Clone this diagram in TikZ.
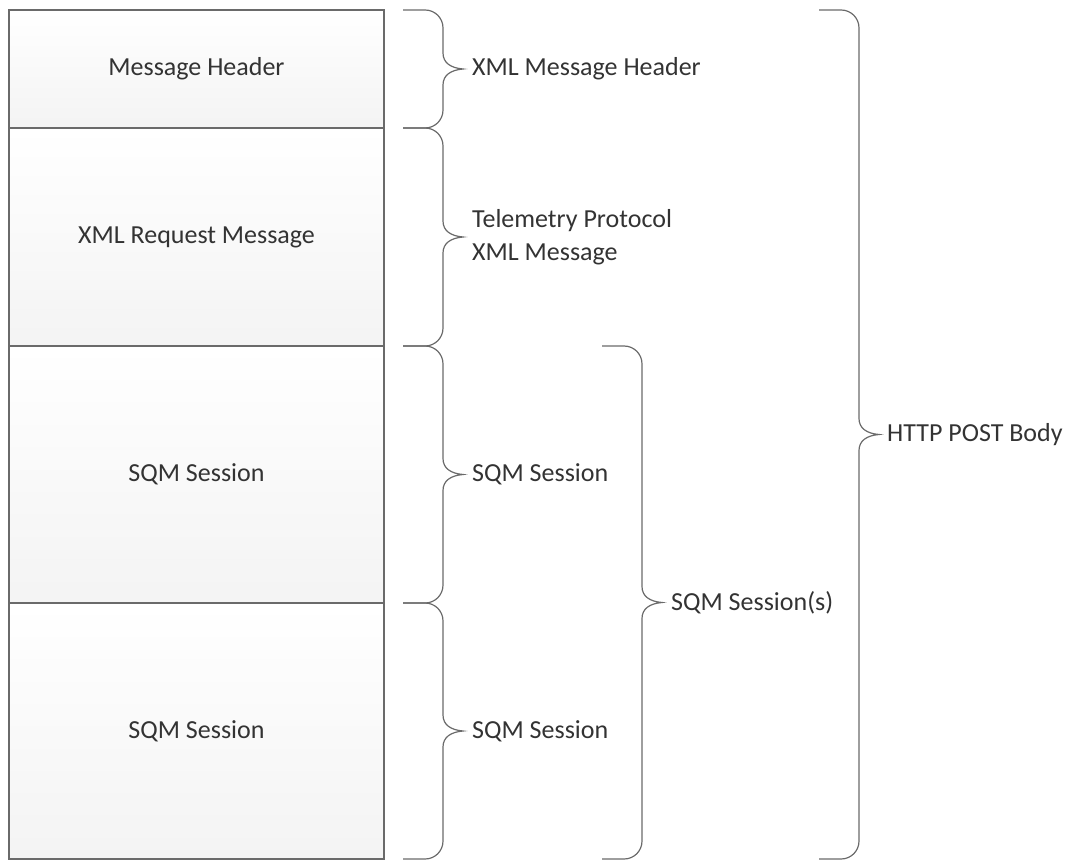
\documentclass[tikz,border=0pt]{standalone}
\usepackage{fontspec}
\setmainfont{Carlito}
\usetikzlibrary{calc}

\definecolor{rand}{HTML}{6A6A6A}
\definecolor{schrift}{HTML}{333333}

\tikzset{
	block/.style={draw=rand,line width=1.2pt,top color=white,bottom color=gray!9,
		minimum width=375pt,inner sep=0pt,outer sep=0pt,anchor=north west,
		text=schrift,font=\fontsize{26}{33}\selectfont},
	klammer/.style={draw=rand,line width=1.2pt},
	beschriftung/.style={anchor=west,inner sep=0pt,align=left,
		text=schrift,font=\fontsize{26}{33}\selectfont}
}

\begin{document}
\begin{tikzpicture}[x=1pt,y=-1pt]

\useasboundingbox (0,0) rectangle (1067,861);

% Stapel der Bloecke
\node[block,minimum height=118pt] (kopf) at (9,10) {Message Header};
\node[block,minimum height=218pt] (anfrage) at (kopf.south west) {XML Request Message};
\node[block,minimum height=257pt] (sitzunga) at (anfrage.south west) {SQM Session};
\node[block,minimum height=256pt] (sitzungb) at (sitzunga.south west) {SQM Session};

% #1 = linker Rand, #2 = oben, #3 = unten
\def\curly#1#2#3{
	\draw[klammer] (#1,#2) -- ({#1+22},#2)
		.. controls ({#1+32},#2) and ({#1+40},{#2+8}) .. ({#1+40},{#2+18})
		-- ({#1+40},{(#2+#3)/2-16})
		.. controls ({#1+40},{(#2+#3)/2-6}) and ({#1+48},{(#2+#3)/2-1}) .. ({#1+60},{(#2+#3)/2})
		.. controls ({#1+48},{(#2+#3)/2+1}) and ({#1+40},{(#2+#3)/2+6}) .. ({#1+40},{(#2+#3)/2+16})
		-- ({#1+40},{#3-18})
		.. controls ({#1+40},{#3-8}) and ({#1+32},#3) .. ({#1+22},#3)
		-- (#1,#3);
}

\curly{403}{10}{128}
\curly{403}{128}{346}
\curly{403}{346}{603}
\curly{403}{603}{859}
\curly{602}{346}{859}
\curly{819}{10}{859}

\node[beschriftung] (xmlkopf) at (472,69) {XML Message Header};
\node[beschriftung] (telemetrie) at (472,237) {Telemetry Protocol\\XML Message};
\node[beschriftung] (sqma) at (472,474.5) {SQM Session};
\node[beschriftung] (sqmb) at (472,731) {SQM Session};
\node[beschriftung] (sqmalle) at (671,602.5) {SQM Session(s)};
\node[beschriftung] (http) at (887,434.5) {HTTP POST Body};

\end{tikzpicture}
\end{document}
